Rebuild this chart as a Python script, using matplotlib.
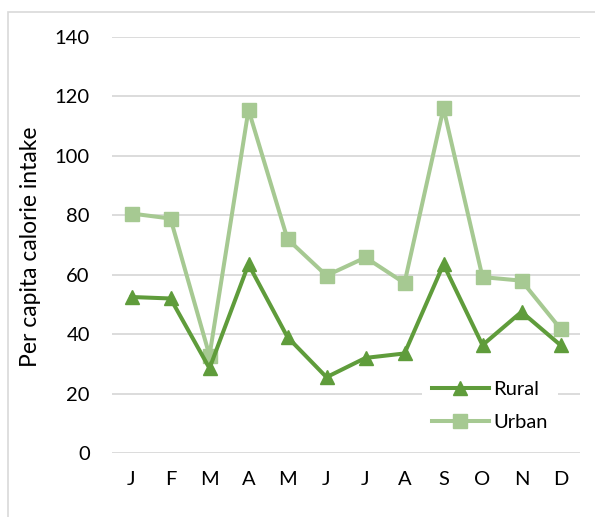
import matplotlib
matplotlib.use("Agg")
import matplotlib.pyplot as plt
from matplotlib.patches import Rectangle

plt.rcParams['font.family'] = ['Lato', 'DejaVu Sans']

months = ["J", "F", "M", "A", "M", "J", "J", "A", "S", "O", "N", "D"]
rural = [52.5, 52, 28.5, 63.5, 39, 25.5, 32, 33.5, 63.5, 36.3, 47.5, 36.3]
urban = [80.6, 78.9, 32.8, 115.5, 72, 59.7, 65.8, 57.2, 116, 59.2, 58, 41.8]
yticks = [0, 20, 40, 60, 80, 100, 120, 140]

rural_color = "#5f9c3b"
urban_color = "#a6c992"
grid_color = "#d9d9d9"

fig = plt.figure(figsize=(5.95, 5.17), dpi=100)

# chart area border (runs off the right and bottom edge)
fig.patches.append(Rectangle((8 / 595, -0.1), 1.0, (517 - 12) / 517 + 0.1,
                             transform=fig.transFigure, fill=False,
                             edgecolor=grid_color, linewidth=1.2))

ax = fig.add_axes([112 / 595, (517 - 453) / 517, 468 / 595, 416 / 517])

x = list(range(len(months)))
ax.plot(x, rural, color=rural_color, linewidth=2.9, marker="^",
        markersize=10, label="Rural", zorder=3)
ax.plot(x, urban, color=urban_color, linewidth=2.9, marker="s",
        markersize=9.5, label="Urban", zorder=2)

ax.set_xlim(-0.5, len(months) - 0.5)
ax.set_ylim(0, 140)
ax.set_yticks(yticks)
ax.set_xticks(x)
ax.set_xticklabels(months)
ax.tick_params(axis="both", length=0, labelsize=14.5, colors="black")
ax.tick_params(axis="y", pad=16)
ax.tick_params(axis="x", pad=13)

ax.grid(axis="y", color=grid_color, linewidth=1.3)
ax.set_axisbelow(True)
for s in ax.spines.values():
    s.set_visible(False)

ax.set_ylabel("Per capita calorie intake", fontsize=16.5)
ax.yaxis.set_label_coords(-(112 - 41) / 468, 0.495, transform=ax.transAxes)

leg = ax.legend(loc="center left", bbox_to_anchor=((412 - 112) / 468, (453 - 406) / 416),
                frameon=True, facecolor="white", edgecolor="none", framealpha=1,
                fontsize=14.5, handlelength=2.8, handletextpad=0.25,
                labelspacing=0.75, borderpad=0.5, fancybox=False)

fig.savefig("out.png", dpi=100)
